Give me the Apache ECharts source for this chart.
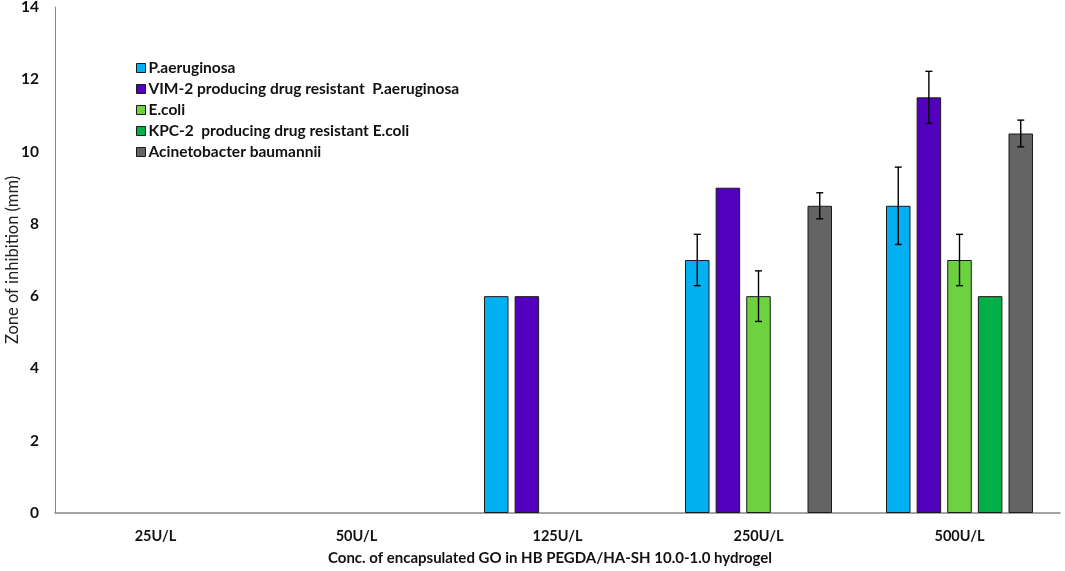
<!DOCTYPE html>
<html>
<head>
<meta charset="utf-8">
<script src="https://cdn.jsdelivr.net/npm/echarts@6/dist/echarts.min.js"></script>
<style>html,body{margin:0;padding:0;background:#fff;}#c{width:1065px;height:571px;}</style>
</head>
<body>
<div id="c"></div>
<script>
var categories = ['25U/L', '50U/L', '125U/L', '250U/L', '500U/L'];
var seriesNames = ['P.aeruginosa', 'VIM-2 producing drug resistant  P.aeruginosa', 'E.coli', 'KPC-2  producing drug resistant E.coli', 'Acinetobacter baumannii'];
var pAeruginosa = [null, null, 6, 7, 8.5];
var vim2 = [null, null, 6, 9, 11.5];
var eColi = [null, null, null, 6, 7];
var kpc2 = [null, null, null, null, 6];
var acinetobacter = [null, null, null, 8.5, 10.5];
var errPAeruginosa = [null, null, null, 0.71, 1.07];
var errVim2 = [null, null, null, null, 0.72];
var errEColi = [null, null, null, 0.7, 0.71];
var errKpc2 = [null, null, null, null, null];
var errAcinetobacter = [null, null, null, 0.36, 0.37];
var yTicks = [0, 2, 4, 6, 8, 10, 12, 14];
var yAxisTitle = 'Zone of inhibition (mm)';
var xAxisTitle = 'Conc. of encapsulated GO in HB PEGDA/HA-SH 10.0-1.0 hydrogel';

var colors = ['#00B0F0', '#5200BE', '#6CD240', '#00AF45', '#646464'];
var values = [pAeruginosa, vim2, eColi, kpc2, acinetobacter];
var errors = [errPAeruginosa, errVim2, errEColi, errKpc2, errAcinetobacter];
var BW = 24.5, GAP = 0.25;
var font = 'Lato, "Open Sans", sans-serif';

var chart = echarts.init(document.getElementById('c'));
var series = [];
values.forEach(function (vals, i) {
  series.push({
    name: seriesNames[i], type: 'bar', data: vals,
    barWidth: BW, barGap: (GAP * 100) + '%',
    itemStyle: { color: colors[i], borderColor: '#1a1a1a', borderWidth: 1 },
    emphasis: { disabled: true }
  });
});
values.forEach(function (vals, i) {
  var data = [];
  vals.forEach(function (v, k) {
    if (v != null && errors[i][k] != null) data.push([k, v, errors[i][k]]);
  });
  series.push({
    type: 'custom', silent: true, z: 10,
    data: data,
    renderItem: function (params, api) {
      var k = api.value(0), v = api.value(1), e = api.value(2);
      var hi = api.coord([k, v + e]);
      var lo = api.coord([k, v - e]);
      var off = (i - 2) * BW * (1 + GAP);
      var x = hi[0] + off;
      var cap = 3.5;
      var st = { stroke: '#000', lineWidth: 1.4 };
      return { type: 'group', children: [
        { type: 'line', shape: { x1: x, y1: hi[1], x2: x, y2: lo[1] }, style: st },
        { type: 'line', shape: { x1: x - cap, y1: hi[1], x2: x + cap, y2: hi[1] }, style: st },
        { type: 'line', shape: { x1: x - cap, y1: lo[1], x2: x + cap, y2: lo[1] }, style: st }
      ]};
    }
  });
});

chart.setOption({
  animation: false,
  backgroundColor: '#fff',
  grid: { left: 55, right: 5, top: 7, bottom: 58, containLabel: false, outerBoundsMode: 'none' },
  legend: {
    data: seriesNames,
    orient: 'vertical', left: 131, top: 55,
    itemWidth: 9, itemHeight: 9, itemGap: 5,
    icon: 'rect',
    itemStyle: { borderColor: '#1a1a1a', borderWidth: 1 },
    textStyle: { fontFamily: font, fontWeight: 'bold', fontSize: 15.5, lineHeight: 16, color: '#111', padding: [0, 0, 0, -2] }
  },
  graphic: [{
    type: 'text', x: 13, y: 260, rotation: Math.PI / 2, silent: true,
    style: { text: yAxisTitle, align: 'center', verticalAlign: 'middle', fill: '#222',
      font: 'normal 16.5px ' + font }
  }],
  xAxis: {
    type: 'category', data: categories,
    axisLine: { lineStyle: { color: '#888', width: 1.5 } },
    axisTick: { show: false },
    axisLabel: { fontFamily: font, fontWeight: 'bold', fontSize: 14.5, color: '#111', margin: 16 },
    name: xAxisTitle,
    nameLocation: 'middle', nameGap: 38,
    nameTextStyle: { fontFamily: font, fontWeight: 'bold', fontSize: 15, color: '#111', padding: [0, 15, 0, 0] }
  },
  yAxis: {
    type: 'value', min: 0, max: 14, interval: 2,
    axisLine: { show: true, lineStyle: { color: '#888', width: 1 } },
    axisTick: { show: false },
    splitLine: { show: false },
    axisLabel: { fontFamily: font, fontWeight: 'bold', fontSize: 15.5, color: '#111', margin: 16,
      formatter: function (v) { return yTicks.indexOf(v) >= 0 ? String(v) : ''; } }
  },
  series: series
});
</script>
</body>
</html>
